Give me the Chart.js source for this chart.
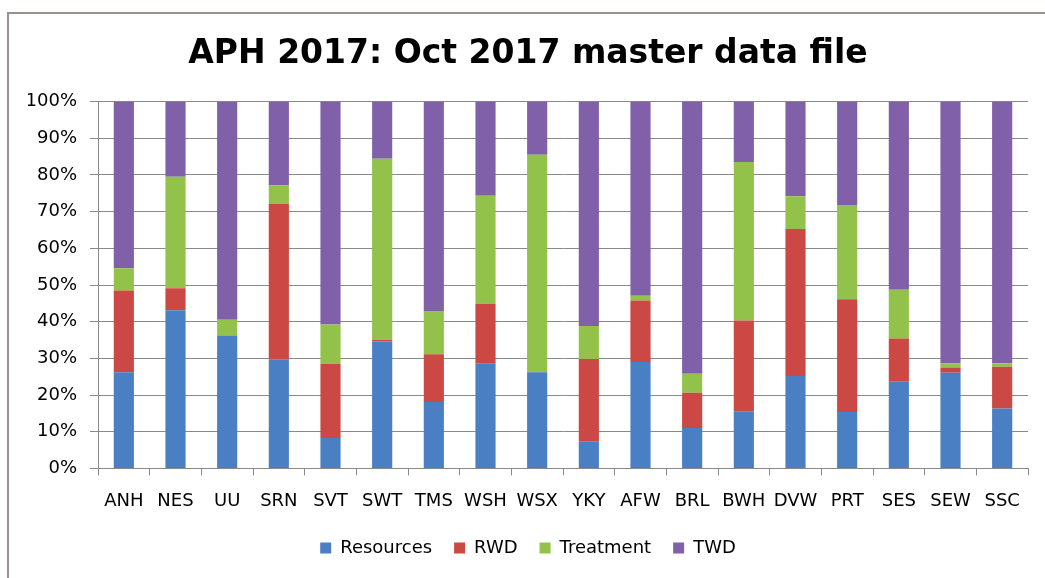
<!DOCTYPE html>
<html>
<head>
<meta charset="utf-8">
<script src="https://cdn.jsdelivr.net/npm/chart.js@4"></script>
<style>
  html, body { margin: 0; padding: 0; background: #fff; overflow: hidden; }
  #wrap { position: relative; width: 1045px; height: 578px; overflow: hidden; }
  #frame { position: absolute; left: 7px; top: 12px; width: 1100px; height: 620px; border: 2px solid #9a9090; box-sizing: border-box; pointer-events: none; }
  canvas { position: absolute; left: 0; top: 0; }
</style>
</head>
<body>
<div id="wrap">
  <canvas id="aphChart" width="1045" height="578"></canvas>
  <div id="frame"></div>
</div>
<script>
// Categories and series (percent of total)
const companies = ['ANH', 'NES', 'UU', 'SRN', 'SVT', 'SWT', 'TMS', 'WSH', 'WSX', 'YKY', 'AFW', 'BRL', 'BWH', 'DVW', 'PRT', 'SES', 'SEW', 'SSC'];
const resources = [26.2, 43.1, 36.2, 29.6, 8.3, 34.6, 18.1, 28.5, 26.2, 7.4, 29.0, 11.0, 15.6, 25.2, 15.4, 23.6, 26.1, 16.3];
const rwd       = [22.3, 6.0, 0.0, 42.5, 20.2, 0.5, 13.0, 16.4, 0.0, 22.4, 16.8, 9.6, 24.7, 40.1, 30.7, 11.8, 1.4, 11.4];
const treatment = [6.1, 30.4, 4.3, 5.1, 10.7, 49.3, 11.8, 29.4, 59.3, 9.0, 1.3, 5.2, 43.2, 8.9, 25.7, 13.3, 1.2, 1.0];
const twd       = [45.4, 20.5, 59.5, 22.8, 60.8, 15.6, 57.1, 25.7, 14.5, 61.2, 52.9, 74.2, 16.5, 25.8, 28.2, 51.3, 71.3, 71.3];
const yTicks = [0, 10, 20, 30, 40, 50, 60, 70, 80, 90, 100];

const font = 'DejaVu Sans, Verdana, sans-serif';
const gridGrey = '#8a8a8a';

const makeSet = (label, data, color) => ({
    label: label,
    data: data,
    backgroundColor: color,
    borderWidth: 0,
    barPercentage: 0.39,
    categoryPercentage: 1.0
});

window.addEventListener('DOMContentLoaded', () => {
    const ctx = document.getElementById('aphChart');
    new Chart(ctx, {
        type: 'bar',
        data: {
            labels: companies,
            datasets: [
                makeSet('Resources', resources, '#4a7fc4'),
                makeSet('RWD', rwd, '#cc4844'),
                makeSet('Treatment', treatment, '#92c24a'),
                makeSet('TWD', twd, '#8061a9')
            ]
        },
        options: {
            responsive: false,
            animation: false,
            devicePixelRatio: 1,
            layout: { padding: { left: 28, right: 17, top: 0, bottom: 11 } },
            plugins: {
                title: {
                    display: true,
                    text: 'APH 2017: Oct 2017 master data file',
                    color: '#000',
                    font: { family: font, size: 33, weight: 'bold' },
                    padding: { top: 35, bottom: 27 }
                },
                legend: {
                    position: 'bottom',
                    labels: {
                        color: '#000',
                        font: { family: font, size: 18 },
                        boxWidth: 11,
                        boxHeight: 11,
                        padding: 22
                    }
                },
                tooltip: { enabled: false }
            },
            scales: {
                x: {
                    stacked: true,
                    afterFit: (scale) => { scale.height -= 10; },
                    grid: { offset: true, drawOnChartArea: false, drawTicks: true, tickLength: 7, color: gridGrey },
                    border: { color: gridGrey, width: 1 },
                    ticks: { color: '#000', font: { family: font, size: 18 }, padding: 15, maxRotation: 0, autoSkip: false }
                },
                y: {
                    stacked: true,
                    min: 0,
                    max: 100,
                    afterBuildTicks: (scale) => { scale.ticks = yTicks.map(v => ({ value: v })); },
                    afterFit: (scale) => { scale.width = 70; },
                    grid: { color: gridGrey, tickLength: 8, lineWidth: 1 },
                    border: { color: gridGrey, width: 1 },
                    ticks: { color: '#000', font: { family: font, size: 18 }, padding: 13, callback: (v) => v + '%' }
                }
            }
        }
    });
});
</script>
</body>
</html>
